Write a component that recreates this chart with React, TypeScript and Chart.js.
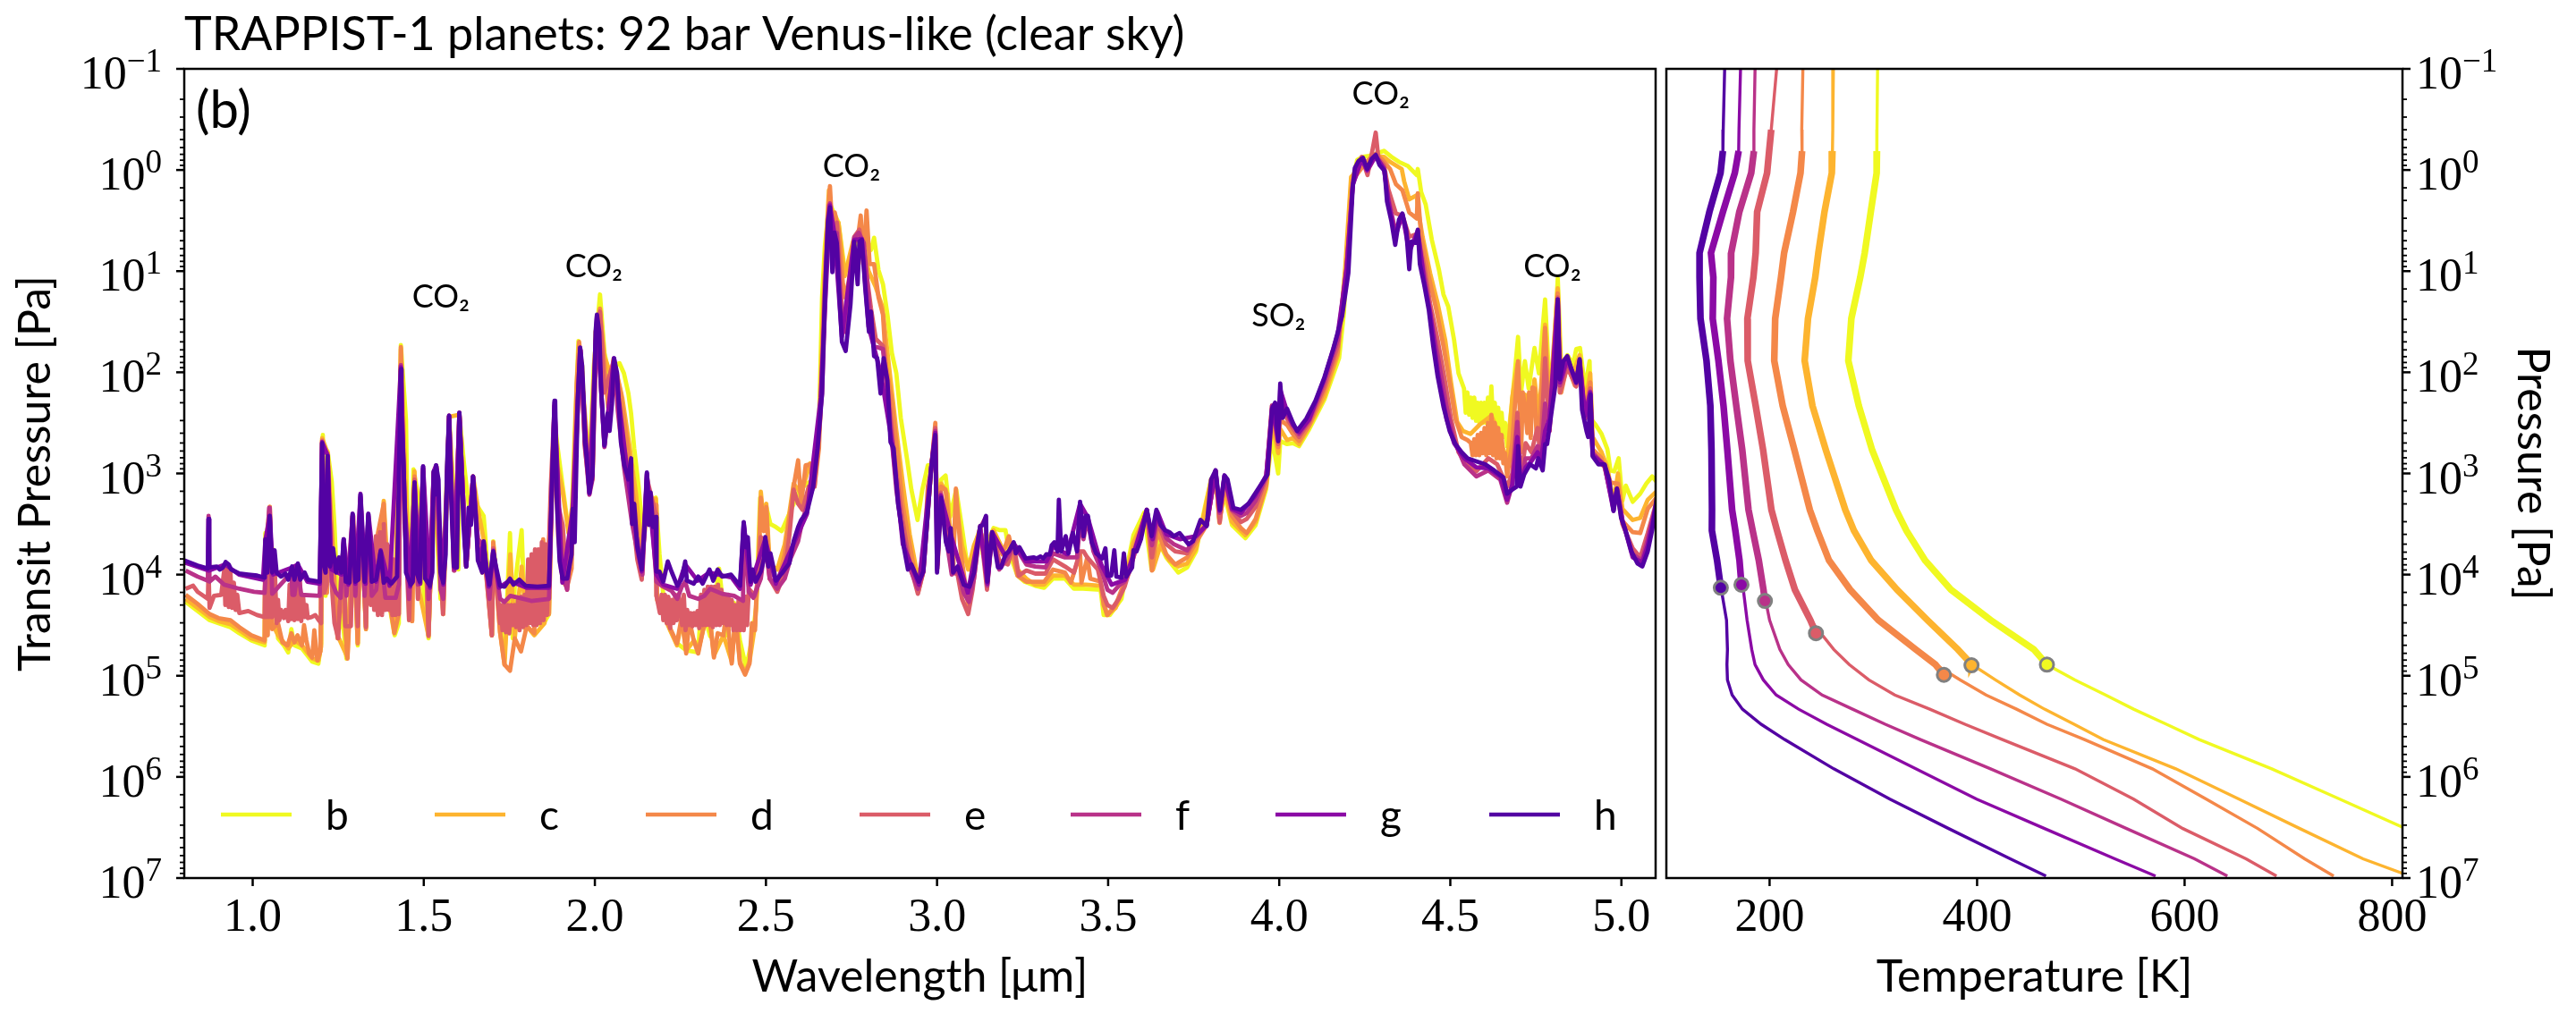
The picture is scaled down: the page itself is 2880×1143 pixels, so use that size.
import React, { useEffect, useRef } from "react";
import { Chart, registerables } from "chart.js";

Chart.register(...registerables);

// ---- DATA -----------------------------------------------------------------
const planets = ["b", "c", "d", "e", "f", "g", "h"];
const planetColors = ["#f0f921", "#fdb42f", "#f48849", "#db5c68", "#b93289", "#8b0aa5", "#5302a3"];
const titleText = "TRAPPIST-1 planets: 92 bar Venus-like (clear sky)";

// Transmission spectra: [wavelength in micron, log10 of transit pressure in Pa]
const spectrumB = [[.804,4.27],[.839,4.36],[.874,4.45],[.900,4.48],[.935,4.52],[.961,4.58],[.996,4.65],[1.035,4.70],[1.037,3.59],[1.044,4.54],[1.057,3.74],[1.074,4.63],[1.091,4.70],[1.104,4.77],[1.113,4.54],[1.122,4.70],[1.144,4.73],[1.174,4.86],[1.192,4.88],[1.200,4.68],[1.205,2.62],[1.213,4.21],[1.219,2.78],[1.231,3.08],[1.239,3.51],[1.252,4.54],[1.261,4.39],[1.274,4.83],[1.287,4.21],[1.292,3.42],[1.307,4.70],[1.315,3.30],[1.331,4.54],[1.338,3.48],[1.357,4.33],[1.374,3.80],[1.396,4.24],[1.415,4.60],[1.427,4.48],[1.433,1.73],[1.448,2.47],[1.457,4.45],[1.470,2.96],[1.483,3.21],[1.496,4.04],[1.514,4.63],[1.529,3.03],[1.549,4.24],[1.562,3.51],[1.574,2.44],[1.601,3.95],[1.604,2.42],[1.618,2.92],[1.636,3.45],[1.658,3.33],[1.675,3.42],[1.679,3.59],[1.699,4.60],[1.703,3.67],[1.723,4.45],[1.736,4.83],[1.752,3.59],[1.760,4.63],[1.766,4.10],[1.786,3.56],[1.797,4.54],[1.807,3.92],[1.823,4.48],[1.849,4.49],[1.866,4.39],[1.875,3.06],[1.882,2.47],[1.891,2.74],[1.906,3.13],[1.919,3.46],[1.932,3.46],[1.941,2.62],[1.952,1.69],[1.963,1.94],[1.971,2.62],[1.984,2.92],[1.997,1.94],[2.015,1.23],[2.028,1.81],[2.041,2.01],[2.056,1.94],[2.072,1.91],[2.085,2.01],[2.098,2.21],[2.106,2.41],[2.115,2.75],[2.128,3.13],[2.141,3.63],[2.154,3.30],[2.178,3.24],[2.189,3.80],[2.202,4.28],[2.220,4.55],[2.241,4.68],[2.267,4.75],[2.302,4.77],[2.311,4.28],[2.337,4.61],[2.363,3.94],[2.385,4.60],[2.407,4.28],[2.424,4.65],[2.442,4.92],[2.459,4.65],[2.472,4.31],[2.483,3.24],[2.494,3.50],[2.501,3.33],[2.513,3.50],[2.529,3.53],[2.546,3.57],[2.564,3.43],[2.581,3.30],[2.598,3.16],[2.625,3.09],[2.642,3.06],[2.655,2.55],[2.664,1.26],[2.672,.76],[2.685,.32],[2.698,.42],[2.712,.52],[2.729,.96],[2.742,.93],[2.755,.79],[2.773,.67],[2.794,.69],[2.807,.79],[2.816,.67],[2.829,.99],[2.842,1.13],[2.855,1.43],[2.868,1.81],[2.881,2.01],[2.894,2.45],[2.912,2.85],[2.925,3.16],[2.943,3.46],[2.957,3.16],[2.973,2.92],[2.983,2.92],[2.995,2.65],[3.003,3.70],[3.012,3.06],[3.025,3.02],[3.038,3.43],[3.056,3.16],[3.073,3.54],[3.085,3.83],[3.095,3.95],[3.113,3.68],[3.126,3.54],[3.134,3.80],[3.165,3.54],[3.182,3.56],[3.200,3.56],[3.210,3.77],[3.235,4.01],[3.256,4.07],[3.287,4.11],[3.313,4.13],[3.339,4.04],[3.374,4.04],[3.400,4.14],[3.426,4.14],[3.478,4.15],[3.487,4.40],[3.505,4.40],[3.539,4.24],[3.561,3.83],[3.574,3.61],[3.605,3.39],[3.627,3.95],[3.644,3.65],[3.670,3.83],[3.705,3.98],[3.731,3.93],[3.757,3.77],[3.783,3.33],[3.801,3.06],[3.814,3.0],[3.825,3.45],[3.840,3.21],[3.862,3.51],[3.901,3.64],[3.931,3.51],[3.962,3.15],[3.979,2.65],[3.997,3.0],[4.003,2.68],[4.023,2.71],[4.040,2.70],[4.058,2.73],[4.088,2.56],[4.132,2.27],[4.175,1.86],[4.189,1.41],[4.202,.66],[4.210,.16],[4.228,-.10],[4.245,-.13],[4.263,-.14],[4.282,-.16],[4.306,-.19],[4.328,-.13],[4.350,-.08],[4.376,-.04],[4.402,.05],[4.405,-.01],[4.415,.22],[4.428,.34],[4.446,.69],[4.467,.99],[4.480,1.23],[4.494,1.35],[4.511,1.68],[4.524,2.01],[4.540,2.16],[4.545,2.40],[4.550,2.20],[4.555,2.42],[4.560,2.25],[4.565,2.45],[4.570,2.25],[4.575,2.48],[4.580,2.30],[4.585,2.50],[4.590,2.30],[4.595,2.50],[4.600,2.30],[4.605,2.50],[4.610,2.25],[4.615,2.50],[4.620,2.14],[4.625,2.50],[4.630,2.30],[4.635,2.55],[4.640,2.35],[4.645,2.58],[4.650,2.40],[4.655,2.64],[4.660,2.50],[4.666,2.73],[4.681,2.28],[4.698,1.65],[4.707,2.19],[4.718,1.89],[4.729,2.16],[4.746,1.76],[4.759,2.01],[4.777,1.28],[4.790,2.16],[4.803,1.80],[4.814,1.07],[4.824,1.95],[4.842,1.83],[4.859,1.92],[4.868,1.77],[4.879,1.76],[4.894,2.16],[4.907,1.89],[4.911,2.46],[4.925,2.52],[4.942,2.61],[4.959,2.76],[4.968,2.97],[4.979,2.98],[4.992,2.85],[5.003,3.27],[5.013,3.12],[5.033,3.28],[5.055,3.20],[5.073,3.10],[5.090,3.03],[5.105,3.09]];

const spectrumC = [[.804,4.24],[.839,4.33],[.874,4.42],[.900,4.46],[.935,4.49],[.961,4.55],[.996,4.63],[1.035,4.67],[1.037,3.74],[1.050,3.33],[1.057,4.48],[1.074,4.60],[1.091,4.67],[1.104,4.73],[1.122,4.65],[1.144,4.70],[1.174,4.83],[1.192,4.85],[1.200,4.71],[1.203,2.65],[1.219,2.80],[1.231,3.80],[1.248,4.60],[1.277,4.82],[1.292,3.42],[1.307,4.68],[1.315,3.27],[1.331,4.52],[1.338,3.45],[1.357,4.30],[1.374,3.62],[1.383,3.27],[1.392,3.80],[1.414,4.57],[1.433,1.77],[1.448,3.21],[1.466,4.46],[1.473,2.98],[1.483,4.10],[1.514,4.61],[1.529,3.0],[1.557,4.39],[1.574,2.44],[1.604,2.42],[1.624,3.92],[1.644,3.03],[1.662,3.42],[1.675,3.65],[1.699,4.60],[1.703,3.71],[1.723,4.57],[1.736,4.89],[1.753,3.80],[1.766,4.63],[1.786,3.92],[1.801,4.51],[1.823,4.60],[1.853,4.48],[1.875,3.15],[1.882,2.47],[1.891,2.92],[1.906,3.18],[1.923,3.59],[1.936,3.27],[1.954,1.75],[1.967,2.25],[1.984,2.95],[1.993,3.05],[2.002,1.6],[2.015,1.42],[2.028,1.85],[2.05,2.05],[2.06,1.95],[2.08,2.25],[2.10,2.7],[2.12,3.2],[2.137,3.75],[2.154,3.25],[2.178,3.25],[2.182,4.25],[2.2,4.4],[2.22,4.55],[2.24,4.7],[2.254,4.45],[2.267,4.75],[2.29,4.65],[2.302,4.75],[2.32,4.5],[2.333,4.36],[2.348,4.8],[2.376,4.6],[2.40,4.86],[2.411,4.4],[2.424,4.86],[2.439,4.97],[2.452,4.86],[2.468,4.5],[2.478,3.9],[2.485,3.18],[2.494,3.5],[2.501,3.3],[2.511,3.9],[2.533,3.95],[2.555,3.7],[2.568,3.4],[2.581,3.1],[2.603,3.2],[2.629,2.9],[2.642,3.05],[2.655,2.6],[2.672,.95],[2.684,.2],[2.694,.5],[2.712,.52],[2.73,1.05],[2.755,.7],[2.78,.7],[2.8,1.0],[2.82,1.15],[2.84,1.35],[2.86,1.95],[2.88,2.55],[2.9,3.1],[2.92,3.6],[2.945,4.05],[2.965,3.7],[2.983,2.96],[2.995,2.6],[3.002,3.7],[3.012,3.1],[3.03,3.2],[3.045,3.85],[3.056,3.27],[3.073,3.71],[3.091,3.95],[3.108,3.71],[3.126,3.56],[3.147,3.86],[3.165,3.56],[3.191,3.74],[3.210,3.71],[3.235,3.95],[3.261,4.04],[3.287,4.10],[3.313,4.10],[3.339,4.01],[3.374,4.01],[3.400,4.10],[3.435,4.10],[3.478,4.11],[3.496,4.40],[3.522,4.33],[3.548,4.10],[3.574,3.68],[3.613,3.39],[3.631,3.95],[3.653,3.71],[3.679,3.86],[3.705,3.92],[3.731,3.89],[3.757,3.74],[3.783,3.36],[3.801,3.06],[3.814,3.0],[3.825,3.48],[3.840,3.15],[3.862,3.48],[3.901,3.61],[3.931,3.48],[3.962,3.12],[3.979,2.50],[3.997,2.80],[4.003,2.56],[4.023,2.67],[4.040,2.65],[4.058,2.71],[4.088,2.53],[4.132,2.24],[4.171,1.83],[4.193,.96],[4.210,.07],[4.254,-.08],[4.282,-.14],[4.306,-.13],[4.324,-.08],[4.358,-.01],[4.365,.11],[4.380,.29],[4.402,.25],[4.406,.40],[4.419,.66],[4.441,1.02],[4.463,1.32],[4.485,1.68],[4.502,2.10],[4.520,2.49],[4.537,2.58],[4.559,2.61],[4.585,2.52],[4.620,2.43],[4.646,2.64],[4.666,2.91],[4.681,2.25],[4.696,1.92],[4.707,2.46],[4.718,2.22],[4.733,2.46],[4.746,2.07],[4.759,2.46],[4.777,1.53],[4.790,2.34],[4.814,1.17],[4.824,2.10],[4.842,1.86],[4.859,2.01],[4.878,1.83],[4.894,2.31],[4.909,2.01],[4.916,2.64],[4.942,2.79],[4.959,2.94],[4.977,3.29],[4.990,3.0],[5.003,3.35],[5.033,3.46],[5.055,3.44],[5.077,3.26],[5.105,3.17]];

const spectrumD = [[.804,4.20],[.839,4.29],[.874,4.39],[.900,4.43],[.935,4.45],[.961,4.52],[.996,4.60],[1.035,4.65],[1.037,3.74],[1.044,4.60],[1.050,3.33],[1.057,4.54],[1.074,4.48],[1.087,4.67],[1.102,4.70],[1.113,4.58],[1.122,4.67],[1.131,4.60],[1.144,4.70],[1.150,4.50],[1.157,4.65],[1.165,4.78],[1.174,4.82],[1.180,4.55],[1.189,4.85],[1.198,4.76],[1.203,2.67],[1.209,4.10],[1.217,4.18],[1.219,2.80],[1.235,3.80],[1.248,4.63],[1.261,4.10],[1.277,4.83],[1.287,4.10],[1.292,3.42],[1.307,4.68],[1.315,3.27],[1.331,4.54],[1.338,3.45],[1.357,4.33],[1.366,3.59],[1.383,3.30],[1.392,4.10],[1.414,4.58],[1.427,4.39],[1.433,1.75],[1.441,2.92],[1.448,3.80],[1.466,4.46],[1.473,3.03],[1.483,4.24],[1.498,2.98],[1.514,4.61],[1.529,3.0],[1.537,2.95],[1.544,3.51],[1.557,4.39],[1.574,2.44],[1.588,3.95],[1.604,2.42],[1.624,3.92],[1.644,3.03],[1.658,3.65],[1.671,3.98],[1.675,3.74],[1.699,4.60],[1.703,3.68],[1.723,4.57],[1.736,4.89],[1.752,4.95],[1.766,4.63],[1.784,4.76],[1.801,4.51],[1.823,4.58],[1.827,3.80],[1.845,4.45],[1.849,3.65],[1.866,4.39],[1.875,3.15],[1.882,2.47],[1.893,3.63],[1.906,4.07],[1.919,4.12],[1.932,3.94],[1.936,3.30],[1.947,2.11],[1.954,1.70],[1.963,2.01],[1.971,2.72],[1.984,2.92],[1.993,3.06],[2.002,1.81],[2.015,1.37],[2.028,1.94],[2.039,2.35],[2.054,1.87],[2.076,2.21],[2.098,2.79],[2.115,3.30],[2.137,3.87],[2.154,3.30],[2.178,3.31],[2.180,4.21],[2.198,4.38],[2.220,4.53],[2.240,4.68],[2.254,4.41],[2.267,4.78],[2.276,4.45],[2.289,4.65],[2.302,4.78],[2.320,4.48],[2.333,4.34],[2.348,4.82],[2.359,4.58],[2.376,4.60],[2.385,4.34],[2.400,4.88],[2.411,4.41],[2.424,4.88],[2.439,4.99],[2.452,4.88],[2.459,4.48],[2.468,4.55],[2.472,4.21],[2.478,3.97],[2.485,3.24],[2.494,3.57],[2.501,3.33],[2.511,4.04],[2.533,4.11],[2.555,3.80],[2.568,3.46],[2.581,3.13],[2.594,2.87],[2.603,3.30],[2.616,2.92],[2.629,2.91],[2.642,3.13],[2.655,2.75],[2.672,1.06],[2.687,.16],[2.694,.59],[2.701,.42],[2.712,.59],[2.725,1.13],[2.731,1.26],[2.742,1.10],[2.755,.72],[2.768,.69],[2.777,.45],[2.784,.93],[2.794,.40],[2.803,.93],[2.816,.93],[2.829,1.26],[2.842,1.43],[2.851,1.94],[2.868,2.28],[2.886,2.85],[2.899,3.30],[2.916,3.63],[2.929,3.87],[2.945,4.17],[2.960,3.97],[2.973,3.13],[2.983,2.96],[2.995,2.50],[3.002,3.90],[3.012,3.13],[3.025,3.16],[3.038,3.63],[3.047,3.97],[3.055,3.15],[3.069,3.77],[3.091,4.30],[3.108,3.98],[3.126,3.54],[3.147,3.95],[3.165,3.59],[3.191,3.80],[3.210,3.62],[3.235,4.01],[3.261,4.07],[3.291,4.07],[3.313,4.07],[3.339,3.95],[3.374,3.98],[3.391,4.08],[3.418,3.79],[3.422,4.08],[3.439,3.83],[3.448,4.04],[3.478,4.07],[3.487,4.30],[3.498,4.40],[3.522,4.30],[3.539,4.15],[3.561,3.98],[3.574,3.76],[3.613,3.36],[3.628,3.96],[3.644,3.56],[3.670,3.80],[3.696,3.90],[3.731,3.83],[3.757,3.68],[3.788,3.51],[3.814,2.98],[3.826,3.49],[3.840,3.09],[3.862,3.42],[3.888,3.54],[3.905,3.59],[3.931,3.45],[3.962,3.11],[3.979,2.39],[3.997,2.74],[4.003,2.47],[4.023,2.52],[4.040,2.61],[4.058,2.68],[4.088,2.52],[4.132,2.18],[4.171,1.80],[4.197,.96],[4.215,.10],[4.254,-.08],[4.282,-.16],[4.302,-.10],[4.324,-.01],[4.341,.14],[4.360,.20],[4.380,.42],[4.402,.48],[4.405,.23],[4.415,.66],[4.437,1.05],[4.459,1.38],[4.480,1.74],[4.498,2.10],[4.515,2.46],[4.533,2.64],[4.550,2.67],[4.560,2.70],[4.565,2.82],[4.570,2.66],[4.575,2.82],[4.580,2.62],[4.585,2.82],[4.590,2.60],[4.595,2.80],[4.600,2.55],[4.605,2.82],[4.610,2.50],[4.615,2.80],[4.620,2.42],[4.625,2.82],[4.630,2.50],[4.635,2.85],[4.640,2.55],[4.645,2.85],[4.650,2.62],[4.655,2.90],[4.660,2.80],[4.666,3.03],[4.681,2.70],[4.698,1.89],[4.707,2.79],[4.712,2.20],[4.718,2.34],[4.725,2.60],[4.730,2.20],[4.735,2.65],[4.740,2.15],[4.746,2.16],[4.752,2.62],[4.759,2.64],[4.777,1.56],[4.788,2.52],[4.814,1.22],[4.824,2.20],[4.842,1.92],[4.864,2.13],[4.878,1.92],[4.894,2.43],[4.909,2.10],[4.916,2.76],[4.942,2.85],[4.968,3.09],[4.990,3.10],[5.003,3.47],[5.033,3.58],[5.055,3.59],[5.077,3.35],[5.105,3.23]];

const spectrumE = [[.804,4.14],[.826,4.11],[.839,4.17],[.869,4.24],[.871,3.95],[.874,4.33],[.887,4.21],[.908,4.20],[.917,3.95],[.920,4.30],[.925,3.93],[.930,4.32],[.935,3.98],[.940,4.33],[.945,4.08],[.950,4.35],[.955,4.20],[.961,4.38],[.987,4.36],[1.013,4.40],[1.035,4.42],[1.036,4.04],[1.040,4.42],[1.043,4.05],[1.046,4.42],[1.050,3.40],[1.054,4.42],[1.057,4.42],[1.062,4.05],[1.065,3.98],[1.070,4.48],[1.074,4.25],[1.078,4.45],[1.083,4.35],[1.091,4.43],[1.096,4.35],[1.104,4.46],[1.108,4.10],[1.113,4.44],[1.117,4.05],[1.122,4.45],[1.127,4.00],[1.132,4.44],[1.137,3.98],[1.142,4.46],[1.147,4.20],[1.152,4.42],[1.157,4.30],[1.161,4.43],[1.172,4.42],[1.183,4.40],[1.193,4.45],[1.200,4.48],[1.203,2.68],[1.209,4.18],[1.216,4.10],[1.219,2.83],[1.231,4.10],[1.239,4.48],[1.250,4.63],[1.257,4.10],[1.266,3.68],[1.271,4.51],[1.287,4.51],[1.294,3.42],[1.307,4.51],[1.315,3.24],[1.331,4.52],[1.338,3.45],[1.345,4.30],[1.350,3.75],[1.355,4.35],[1.360,3.62],[1.366,4.40],[1.372,3.58],[1.378,4.40],[1.383,3.50],[1.388,4.35],[1.393,3.70],[1.398,4.35],[1.403,3.72],[1.408,4.40],[1.412,3.85],[1.417,4.40],[1.422,4.15],[1.427,4.39],[1.433,1.93],[1.444,3.36],[1.457,4.45],[1.473,3.06],[1.483,4.24],[1.498,2.95],[1.514,4.60],[1.529,2.99],[1.537,2.93],[1.544,3.51],[1.556,4.39],[1.574,2.43],[1.590,3.96],[1.604,2.40],[1.624,3.92],[1.644,3.03],[1.658,3.68],[1.671,3.95],[1.675,3.71],[1.699,4.60],[1.703,3.74],[1.723,4.48],[1.725,4.30],[1.730,4.55],[1.735,4.28],[1.740,4.57],[1.745,4.30],[1.750,4.58],[1.755,4.30],[1.760,4.50],[1.765,4.30],[1.770,4.52],[1.775,4.25],[1.780,4.55],[1.785,4.22],[1.790,4.52],[1.795,4.20],[1.800,4.50],[1.805,3.85],[1.810,4.48],[1.815,3.80],[1.820,4.50],[1.825,3.75],[1.830,4.50],[1.835,3.75],[1.840,4.48],[1.845,3.68],[1.850,4.45],[1.855,3.70],[1.860,4.40],[1.865,3.80],[1.871,3.15],[1.882,2.33],[1.894,3.33],[1.906,3.51],[1.919,4.15],[1.936,3.39],[1.958,1.78],[1.971,2.75],[1.984,3.15],[2.002,1.70],[2.015,1.40],[2.028,2.20],[2.056,1.88],[2.076,2.55],[2.098,3.00],[2.124,3.85],[2.137,4.05],[2.152,3.05],[2.178,3.40],[2.180,4.21],[2.190,4.38],[2.195,4.20],[2.200,4.45],[2.205,4.20],[2.210,4.48],[2.215,4.22],[2.220,4.53],[2.225,4.25],[2.230,4.48],[2.235,4.20],[2.240,4.45],[2.245,4.20],[2.250,4.31],[2.255,4.50],[2.260,4.20],[2.265,4.55],[2.270,4.35],[2.275,4.50],[2.280,4.38],[2.285,4.51],[2.290,4.38],[2.295,4.50],[2.300,4.36],[2.305,4.53],[2.310,4.20],[2.315,4.50],[2.320,4.15],[2.325,4.50],[2.330,4.12],[2.335,4.50],[2.340,4.12],[2.345,4.52],[2.350,4.12],[2.355,4.50],[2.360,4.10],[2.365,4.50],[2.370,4.15],[2.375,4.48],[2.380,4.20],[2.385,4.50],[2.390,4.20],[2.395,4.50],[2.400,4.25],[2.405,4.55],[2.410,4.30],[2.415,4.55],[2.420,4.25],[2.425,4.55],[2.430,4.25],[2.435,4.55],[2.440,4.22],[2.445,4.50],[2.450,4.14],[2.468,4.21],[2.476,4.07],[2.485,3.63],[2.498,3.67],[2.511,4.04],[2.533,4.17],[2.555,3.97],[2.568,3.63],[2.581,3.16],[2.594,3.30],[2.607,3.36],[2.625,3.13],[2.642,3.13],[2.659,2.45],[2.672,1.20],[2.684,.35],[2.694,.82],[2.707,.52],[2.722,1.37],[2.733,1.54],[2.758,.66],[2.773,.59],[2.790,.93],[2.807,1.37],[2.821,1.67],[2.842,1.74],[2.860,2.28],[2.877,2.89],[2.899,3.46],[2.921,3.90],[2.944,4.19],[2.960,3.97],[2.983,2.94],[2.995,2.55],[3.001,3.94],[3.011,3.19],[3.025,3.46],[3.043,3.97],[3.060,4.0],[3.073,4.24],[3.091,4.39],[3.104,4.15],[3.126,3.52],[3.146,4.15],[3.161,3.59],[3.182,3.86],[3.207,3.90],[3.224,3.70],[3.239,4.01],[3.261,3.96],[3.287,3.99],[3.317,3.99],[3.339,3.85],[3.374,3.92],[3.400,3.98],[3.418,3.77],[3.428,3.77],[3.439,3.83],[3.470,3.95],[3.487,4.21],[3.498,4.30],[3.513,4.33],[3.531,4.24],[3.548,4.12],[3.574,3.83],[3.613,3.36],[3.628,3.83],[3.644,3.48],[3.670,3.70],[3.696,3.77],[3.731,3.79],[3.757,3.64],[3.788,3.51],[3.814,2.98],[3.826,3.48],[3.840,3.05],[3.862,3.37],[3.888,3.48],[3.905,3.45],[3.931,3.33],[3.962,3.05],[3.979,2.33],[3.997,2.71],[4.003,2.33],[4.023,2.46],[4.040,2.55],[4.058,2.64],[4.088,2.49],[4.132,2.14],[4.171,1.74],[4.197,.96],[4.215,.13],[4.241,-.13],[4.258,.05],[4.271,-.17],[4.282,-.37],[4.290,-.11],[4.306,-.05],[4.319,.19],[4.341,.43],[4.360,.45],[4.380,.66],[4.405,.63],[4.424,.96],[4.441,1.32],[4.463,1.68],[4.485,2.10],[4.502,2.46],[4.524,2.79],[4.550,2.92],[4.576,2.98],[4.611,2.85],[4.637,2.91],[4.666,3.13],[4.681,3.0],[4.696,2.40],[4.705,3.06],[4.720,2.70],[4.737,2.79],[4.755,2.55],[4.763,2.82],[4.777,1.86],[4.790,2.58],[4.814,1.26],[4.820,2.20],[4.842,1.95],[4.868,2.14],[4.878,1.90],[4.894,2.46],[4.909,2.16],[4.916,2.79],[4.951,2.94],[4.977,3.32],[4.987,3.18],[5.003,3.50],[5.033,3.74],[5.055,3.83],[5.077,3.59],[5.105,3.25]];

const spectrumF = [[.804,3.96],[.839,4.02],[.869,4.06],[.871,3.42],[.874,4.07],[.891,4.02],[.917,4.10],[.961,4.14],[1.004,4.17],[1.035,4.18],[1.048,3.34],[1.050,3.34],[1.057,4.19],[1.113,3.98],[1.116,4.20],[1.122,4.20],[1.132,3.95],[1.142,4.20],[1.196,4.21],[1.203,2.70],[1.213,3.98],[1.219,2.83],[1.231,4.07],[1.244,4.18],[1.257,4.23],[1.266,3.65],[1.274,4.21],[1.292,3.42],[1.300,4.21],[1.315,3.23],[1.327,4.21],[1.338,3.42],[1.348,4.21],[1.361,4.15],[1.374,3.77],[1.388,4.23],[1.418,4.23],[1.427,4.10],[1.433,1.93],[1.444,3.51],[1.457,4.24],[1.473,3.09],[1.483,4.10],[1.498,2.95],[1.514,4.24],[1.529,2.99],[1.537,2.93],[1.549,4.15],[1.557,4.24],[1.574,2.43],[1.588,3.96],[1.604,2.41],[1.624,3.92],[1.644,3.03],[1.658,3.65],[1.675,3.71],[1.692,4.24],[1.703,3.76],[1.723,4.24],[1.736,4.27],[1.753,4.21],[1.779,4.23],[1.814,4.26],[1.866,4.24],[1.875,3.09],[1.882,2.33],[1.901,3.95],[1.919,4.15],[1.936,3.45],[1.958,1.78],[1.971,2.72],[1.984,3.21],[1.993,3.06],[2.006,1.47],[2.028,2.74],[2.056,1.87],[2.067,2.38],[2.086,2.96],[2.109,3.50],[2.124,3.77],[2.139,4.0],[2.152,3.01],[2.170,3.60],[2.180,4.07],[2.200,4.12],[2.224,4.16],[2.241,4.24],[2.254,4.12],[2.264,4.07],[2.276,4.21],[2.302,4.24],[2.320,4.21],[2.337,4.14],[2.372,4.19],[2.407,4.21],[2.433,4.26],[2.435,3.51],[2.450,4.17],[2.463,4.23],[2.485,4.04],[2.498,3.70],[2.511,4.04],[2.533,4.14],[2.555,4.04],[2.572,3.84],[2.594,3.67],[2.607,3.46],[2.638,3.13],[2.664,2.21],[2.681,.49],[2.687,.33],[2.694,.86],[2.707,.62],[2.722,1.54],[2.733,1.60],[2.758,.67],[2.771,.62],[2.786,.72],[2.803,1.37],[2.816,1.74],[2.842,1.77],[2.860,2.38],[2.881,3.16],[2.899,3.60],[2.921,3.94],[2.944,4.14],[2.960,3.97],[2.983,2.94],[2.995,2.58],[3.001,3.87],[3.011,3.21],[3.025,3.60],[3.043,4.0],[3.060,3.95],[3.078,4.18],[3.093,4.27],[3.108,4.04],[3.126,3.54],[3.143,3.43],[3.147,4.11],[3.161,3.59],[3.182,3.95],[3.207,3.83],[3.224,3.70],[3.261,3.90],[3.287,3.92],[3.317,3.93],[3.339,3.79],[3.374,3.83],[3.409,3.83],[3.418,3.48],[3.428,3.65],[3.439,3.45],[3.457,3.77],[3.483,3.98],[3.498,4.15],[3.513,4.18],[3.531,4.11],[3.548,4.07],[3.574,3.83],[3.613,3.36],[3.628,3.71],[3.644,3.42],[3.670,3.64],[3.692,3.70],[3.731,3.76],[3.757,3.61],[3.788,3.51],[3.814,2.97],[3.826,3.39],[3.840,3.03],[3.862,3.36],[3.888,3.42],[3.905,3.39],[3.931,3.27],[3.962,3.03],[3.979,2.33],[3.997,2.68],[4.003,2.24],[4.023,2.42],[4.040,2.52],[4.058,2.61],[4.088,2.47],[4.132,2.09],[4.171,1.68],[4.197,.96],[4.215,.14],[4.241,-.11],[4.257,.01],[4.282,-.14],[4.306,-.02],[4.319,.28],[4.339,.60],[4.360,.44],[4.380,.75],[4.405,.65],[4.424,1.05],[4.441,1.41],[4.463,1.83],[4.489,2.34],[4.511,2.67],[4.541,2.91],[4.576,3.03],[4.611,2.97],[4.646,3.06],[4.666,3.29],[4.681,3.11],[4.696,2.49],[4.705,3.11],[4.720,2.85],[4.737,2.85],[4.755,2.73],[4.763,2.91],[4.777,2.31],[4.790,2.58],[4.814,1.28],[4.820,2.13],[4.842,1.89],[4.868,2.11],[4.878,1.89],[4.894,2.46],[4.909,2.19],[4.916,2.80],[4.951,2.92],[4.977,3.35],[4.987,3.16],[5.003,3.47],[5.033,3.80],[5.060,3.86],[5.077,3.65],[5.105,3.25]];

const spectrumG = [[.80,3.88],[.87,3.96],[.871,3.45],[.873,3.96],[.92,3.9],[.96,4.0],[1.03,4.05],[1.037,3.66],[1.05,3.42],[1.06,4.0],[1.115,3.93],[1.132,3.9],[1.16,4.07],[1.196,4.09],[1.203,2.69],[1.219,2.82],[1.23,3.95],[1.26,4.0],[1.266,3.65],[1.28,4.1],[1.292,3.4],[1.30,4.09],[1.315,3.2],[1.33,4.09],[1.338,3.4],[1.36,4.07],[1.374,3.76],[1.40,4.11],[1.433,1.95],[1.444,3.3],[1.46,4.12],[1.473,3.09],[1.49,4.09],[1.498,2.93],[1.518,4.13],[1.529,2.98],[1.536,2.92],[1.557,4.1],[1.574,2.43],[1.59,3.94],[1.604,2.4],[1.624,3.92],[1.644,3.03],[1.66,3.87],[1.675,3.68],[1.69,4.12],[1.703,3.77],[1.72,4.13],[1.75,4.06],[1.80,4.13],[1.866,4.13],[1.882,2.3],[1.905,4.08],[1.935,3.37],[1.957,1.76],[1.984,3.2],[2.006,1.44],[2.028,2.73],[2.056,1.86],[2.098,3.08],[2.137,3.97],[2.152,3.0],[2.18,4.0],[2.2,4.1],[2.24,4.14],[2.264,3.9],[2.3,4.06],[2.335,3.98],[2.4,4.03],[2.424,4.14],[2.435,3.49],[2.455,4.1],[2.498,3.65],[2.529,4.09],[2.58,3.7],[2.62,3.4],[2.66,2.25],[2.687,.35],[2.7,.63],[2.722,1.65],[2.758,.69],[2.78,.68],[2.8,1.55],[2.835,2.0],[2.87,2.73],[2.9,3.7],[2.947,4.1],[2.983,2.94],[2.995,2.6],[3.0,3.95],[3.011,3.22],[3.04,3.6],[3.09,4.18],[3.126,3.53],[3.147,4.09],[3.161,3.58],[3.2,3.82],[3.224,3.69],[3.26,3.87],[3.32,3.87],[3.34,3.72],[3.38,3.8],[3.418,3.3],[3.44,3.43],[3.48,3.9],[3.51,4.1],[3.55,4.05],[3.574,3.8],[3.613,3.36],[3.63,3.65],[3.644,3.38],[3.67,3.6],[3.71,3.65],[3.757,3.62],[3.788,3.51],[3.814,2.97],[3.826,3.37],[3.84,3.02],[3.862,3.35],[3.888,3.39],[3.93,3.22],[3.962,3.02],[3.98,2.34],[3.997,2.66],[4.003,2.17],[4.023,2.39],[4.04,2.52],[4.058,2.59],[4.088,2.46],[4.132,2.06],[4.171,1.62],[4.197,.99],[4.215,.15],[4.241,-.11],[4.257,0],[4.282,-.14],[4.306,-.01],[4.319,.31],[4.339,.66],[4.360,.44],[4.380,.81],[4.405,.60],[4.424,1.11],[4.441,1.41],[4.463,1.98],[4.489,2.46],[4.511,2.70],[4.541,2.85],[4.576,2.94],[4.611,2.95],[4.646,3.03],[4.666,3.26],[4.681,3.11],[4.696,2.64],[4.705,3.11],[4.720,2.94],[4.737,2.88],[4.755,2.79],[4.763,2.92],[4.777,2.58],[4.790,2.46],[4.814,1.28],[4.820,2.10],[4.842,1.86],[4.868,2.10],[4.878,1.88],[4.894,2.43],[4.909,2.20],[4.916,2.82],[4.951,2.92],[4.977,3.37],[4.987,3.15],[5.003,3.46],[5.033,3.83],[5.061,3.88],[5.077,3.71],[5.105,3.25]];

const spectrumH = [[.80,3.86],[.839,3.91],[.869,3.94],[.871,3.45],[.873,3.93],[.895,3.92],[.904,3.95],[.913,3.93],[.921,3.875],[.930,3.90],[.937,3.95],[.961,3.99],[.987,4.00],[1.013,4.01],[1.035,4.03],[1.037,3.65],[1.043,3.98],[1.050,3.42],[1.057,3.98],[1.064,3.76],[1.070,3.98],[1.083,4.02],[1.096,3.99],[1.104,4.05],[1.115,3.92],[1.122,4.05],[1.132,3.89],[1.139,4.05],[1.152,3.98],[1.161,4.05],[1.196,4.07],[1.203,2.70],[1.209,3.92],[1.213,3.98],[1.219,2.83],[1.226,3.92],[1.235,3.74],[1.244,3.98],[1.252,3.83],[1.259,3.98],[1.266,3.65],[1.272,4.07],[1.283,4.08],[1.292,3.40],[1.300,4.07],[1.309,4.05],[1.315,3.21],[1.327,4.07],[1.338,3.40],[1.348,4.07],[1.361,4.05],[1.374,3.77],[1.383,4.08],[1.392,4.04],[1.405,4.09],[1.422,4.02],[1.433,1.97],[1.435,2.42],[1.441,2.92],[1.444,3.27],[1.448,3.98],[1.462,4.10],[1.468,4.07],[1.473,3.09],[1.479,3.98],[1.488,4.07],[1.498,2.93],[1.504,4.04],[1.518,4.11],[1.525,3.98],[1.529,2.98],[1.533,3.21],[1.536,2.92],[1.543,3.06],[1.549,3.98],[1.557,4.08],[1.564,3.80],[1.568,2.92],[1.574,2.43],[1.579,3.15],[1.583,3.51],[1.588,3.92],[1.597,3.93],[1.604,2.40],[1.610,2.92],[1.616,3.51],[1.624,3.92],[1.631,3.34],[1.638,3.51],[1.644,3.03],[1.653,3.48],[1.658,3.86],[1.671,3.98],[1.675,3.67],[1.682,3.95],[1.692,4.10],[1.703,3.77],[1.711,3.92],[1.723,4.11],[1.736,4.12],[1.752,4.04],[1.762,4.10],[1.779,4.05],[1.797,4.11],[1.832,4.12],[1.866,4.11],[1.875,3.06],[1.882,2.28],[1.884,2.28],[1.889,3.30],[1.897,3.87],[1.906,4.04],[1.919,4.04],[1.932,3.80],[1.935,3.35],[1.941,3.68],[1.950,2.28],[1.957,1.755],[1.963,1.94],[1.967,2.25],[1.971,2.69],[1.976,2.84],[1.984,3.19],[1.993,3.02],[2.002,1.60],[2.006,1.43],[2.013,1.60],[2.019,2.21],[2.028,2.72],[2.037,2.41],[2.043,2.58],[2.050,2.31],[2.056,1.86],[2.065,2.01],[2.076,2.69],[2.086,2.92],[2.098,3.06],[2.106,2.85],[2.109,3.50],[2.115,3.30],[2.124,3.73],[2.137,3.95],[2.145,3.57],[2.152,2.99],[2.158,3.51],[2.163,3.19],[2.170,3.53],[2.178,3.43],[2.180,3.97],[2.189,3.97],[2.200,4.07],[2.213,3.87],[2.224,3.97],[2.241,4.11],[2.254,4.04],[2.264,3.87],[2.269,4.06],[2.289,4.09],[2.302,4.02],[2.315,4.09],[2.335,3.95],[2.346,4.06],[2.359,3.95],[2.372,4.02],[2.398,4.00],[2.424,4.11],[2.435,3.48],[2.442,3.73],[2.447,3.63],[2.455,4.07],[2.461,3.95],[2.470,4.07],[2.485,3.97],[2.494,3.85],[2.498,3.63],[2.507,3.92],[2.513,3.79],[2.520,3.90],[2.529,4.06],[2.546,3.99],[2.568,3.89],[2.581,3.67],[2.594,3.53],[2.603,3.46],[2.620,3.38],[2.638,3.13],[2.651,2.75],[2.664,2.21],[2.672,1.26],[2.681,.52],[2.687,.37],[2.694,1.01],[2.700,.62],[2.707,.72],[2.716,1.33],[2.722,1.70],[2.733,1.79],[2.747,1.33],[2.758,.71],[2.768,1.13],[2.773,.71],[2.780,.69],[2.790,1.16],[2.801,1.60],[2.807,1.40],[2.816,1.84],[2.825,1.86],[2.835,2.21],[2.844,1.86],[2.855,2.08],[2.864,2.69],[2.873,2.75],[2.886,3.30],[2.895,3.50],[2.903,3.73],[2.915,3.95],[2.925,3.90],[2.934,3.97],[2.947,4.07],[2.960,3.97],[2.969,3.57],[2.983,2.94],[2.995,2.62],[3.0,3.98],[3.012,3.24],[3.026,3.68],[3.034,3.77],[3.040,3.54],[3.047,3.98],[3.060,3.92],[3.078,4.10],[3.095,4.12],[3.108,3.98],[3.126,3.52],[3.134,3.51],[3.143,3.42],[3.147,4.07],[3.161,3.58],[3.178,3.93],[3.187,3.93],[3.200,3.80],[3.210,3.77],[3.224,3.68],[3.230,3.79],[3.241,3.73],[3.259,3.84],[3.282,3.83],[3.291,3.84],[3.302,3.82],[3.311,3.84],[3.319,3.80],[3.330,3.80],[3.335,3.71],[3.343,3.68],[3.352,3.77],[3.356,3.26],[3.363,3.77],[3.376,3.62],[3.384,3.79],[3.397,3.59],[3.409,3.77],[3.418,3.28],[3.428,3.62],[3.435,3.42],[3.441,3.42],[3.452,3.68],[3.465,3.79],[3.483,3.84],[3.492,3.74],[3.498,4.01],[3.509,4.01],[3.518,3.76],[3.524,4.02],[3.539,4.03],[3.546,3.79],[3.553,4.02],[3.570,3.93],[3.574,3.76],[3.583,3.77],[3.596,3.65],[3.613,3.36],[3.627,3.62],[3.631,3.54],[3.641,3.36],[3.653,3.51],[3.666,3.56],[3.679,3.58],[3.692,3.62],[3.709,3.59],[3.735,3.70],[3.748,3.67],[3.770,3.46],[3.788,3.52],[3.801,3.06],[3.814,2.97],[3.827,3.36],[3.840,3.02],[3.849,3.06],[3.866,3.34],[3.888,3.36],[3.910,3.30],[3.966,3.01],[3.979,2.36],[3.988,2.30],[3.997,2.68],[4.003,2.11],[4.010,2.45],[4.023,2.36],[4.040,2.50],[4.052,2.58],[4.079,2.46],[4.106,2.28],[4.132,2.05],[4.158,1.77],[4.184,1.44],[4.202,1.02],[4.215,.16],[4.221,-.02],[4.232,-.09],[4.245,-.12],[4.257,-.01],[4.270,-.11],[4.282,-.15],[4.293,-.05],[4.308,.01],[4.315,.31],[4.328,.51],[4.339,.74],[4.350,.49],[4.360,.43],[4.371,.59],[4.380,.98],[4.386,.71],[4.398,.72],[4.405,.59],[4.411,.93],[4.424,1.14],[4.437,1.38],[4.450,1.74],[4.463,2.04],[4.480,2.34],[4.498,2.58],[4.515,2.71],[4.533,2.79],[4.550,2.85],[4.576,2.88],[4.602,2.91],[4.628,2.97],[4.655,3.04],[4.666,3.20],[4.681,3.16],[4.694,3.13],[4.698,2.73],[4.705,3.13],[4.716,3.01],[4.733,2.91],[4.750,2.95],[4.757,2.85],[4.770,2.97],[4.777,2.71],[4.783,2.71],[4.798,2.34],[4.807,2.13],[4.814,1.28],[4.820,2.07],[4.830,1.89],[4.842,1.84],[4.855,1.98],[4.868,2.10],[4.878,1.87],[4.885,2.37],[4.898,2.58],[4.903,2.64],[4.910,2.22],[4.916,2.83],[4.933,2.91],[4.951,2.91],[4.964,3.06],[4.977,3.37],[4.987,3.15],[4.999,3.44],[5.012,3.56],[5.029,3.77],[5.047,3.89],[5.061,3.92],[5.077,3.77],[5.090,3.56],[5.105,3.20]];

const spectra = [spectrumB, spectrumC, spectrumD, spectrumE, spectrumF, spectrumG, spectrumH];

// Molecular band labels
const bandLabels = ["CO₂", "CO₂", "CO₂", "CO₂", "CO₂", "SO₂"];
const bandWavelengths = [1.55, 1.997, 2.75, 4.297, 4.798, 3.998];
const bandPressures = [18.2, 9.0, 0.92, 0.18, 9.1, 27.9];

// Temperature-pressure profiles on shared pressure levels (Pa)
const pressureLevels = [0.1, 0.4, 0.65, 1.07, 2.6, 6.6, 11.5, 29.5, 76.7, 214, 589, 2290, 3670, 7240, 14100, 28200, 55000, 77600, 110000, 155000, 214000, 302000, 427000, 832000, 1660000, 3240000, 6460000, 9550000];
const temperatureB = [304.1, 303.5, 303.5, 303.2, 297.5, 291.7, 287.4, 278.8, 275.9, 286, 298.9, 321.9, 331.9, 349.9, 374.8, 413.1, 454.7, 467.3, 494.4, 523.8, 550.9, 582.5, 614.1, 684, 749.6, 812.8, 882.8, 918.9];
const temperatureC = [261.5, 260.9, 260.6, 260, 252.9, 247, 244, 237, 233.8, 241.3, 254.3, 273, 281.3, 298, 322.8, 352.2, 381.5, 395, 417.7, 441, 465, 493.5, 521.5, 591.5, 652.5, 711, 772, 817];
const temperatureD = [232.1, 231, 231.3, 229.8, 222.6, 214, 211, 205.4, 204.5, 212.6, 224, 238.8, 246, 257.3, 277.7, 304.8, 340.9, 359.9, 383.8, 408.6, 438, 467.3, 503.5, 568.9, 620.9, 670.5, 715.7, 743.7];
const temperatureE = [206.8, 201.6, 199.6, 197.6, 188, 186.6, 184.4, 178.6, 178.9, 186.6, 193.8, 201.8, 207.2, 215.4, 224.4, 239.3, 261.9, 276.8, 295.7, 320.6, 354.4, 388.3, 424.4, 494.4, 550.9, 598.3, 659.2, 688.6];
const temperatureF = [186, 184.9, 184.9, 182.3, 170.8, 163, 162.8, 159, 162.2, 167.9, 173.7, 179.7, 183.7, 189.6, 194.1, 200, 209.9, 218, 230.3, 250.6, 280, 311.5, 345.4, 413, 480.9, 544, 609.6, 641.2];
const temperatureG = [172, 170.5, 170.2, 166.5, 155, 143.5, 145.8, 145.2, 150.7, 155.6, 159.3, 163.9, 167, 171, 174.7, 178.3, 182.8, 186, 194, 206.3, 228, 255, 284.4, 340.9, 399.6, 465, 532.8, 572];
const temperatureH = [156.7, 155.3, 155, 152.7, 142, 132.5, 132.5, 133.4, 139.2, 142.9, 144, 144.5, 144.4, 149.4, 153.5, 158.5, 159.4, 158.9, 159.4, 163.9, 173.8, 191.9, 214.5, 261.9, 316, 372.5, 432, 466.4];
const temperatures = [temperatureB, temperatureC, temperatureD, temperatureE, temperatureF, temperatureG, temperatureH];

// Top of the radiatively probed (thick) range and the cloud-deck markers
const thickTopPressures = [0.65, 0.65, 0.65, 0.4, 0.65, 0.65, 0.65];
const markerTemperatures = [467.3, 394.6, 368, 244.7, 195.5, 172.9, 153];
const markerPressures = [77600, 78900, 98000, 38000, 18200, 12600, 13500];

// ---- STYLE ----------------------------------------------------------------
const SANS = "Lato, 'Open Sans', 'DejaVu Sans', sans-serif";
const SERIF = "'Liberation Serif', serif";

const powerOfTen = (v: number) => {
  const e = Math.log10(v);
  return Math.abs(e - Math.round(e)) < 1e-6 ? Math.round(e) : null;
};

// draws the frame, the outward ticks and the 10^n labels from the chart's scales
const framePlugin = {
  id: "frame",
  afterDraw(chart: any) {
    const { ctx, chartArea: a, scales } = chart;
    const yOnRight = scales.y.options.position === "right";
    ctx.save();
    ctx.strokeStyle = "#000";
    ctx.fillStyle = "#000";
    scales.x.ticks.forEach((t: any) => {
      const px = scales.x.getPixelForValue(t.value);
      ctx.lineWidth = 2.5;
      ctx.beginPath();
      ctx.moveTo(px, a.bottom);
      ctx.lineTo(px, a.bottom + 9);
      ctx.stroke();
    });
    ctx.textBaseline = "alphabetic";
    ctx.textAlign = "left";
    scales.y.ticks.forEach((t: any) => {
      const py = scales.y.getPixelForValue(t.value);
      const power = powerOfTen(t.value);
      const major = power !== null;
      const len = major ? 9 : 5;
      ctx.lineWidth = major ? 2.5 : 1.8;
      ctx.beginPath();
      ctx.moveTo(yOnRight ? a.right : a.left, py);
      ctx.lineTo(yOnRight ? a.right + len : a.left - len, py);
      ctx.stroke();
      if (major) {
        const exp = power < 0 ? `−${-power}` : String(power);
        ctx.font = `37px ${SERIF}`;
        const expWidth = ctx.measureText(exp).width;
        ctx.font = `52px ${SERIF}`;
        const baseWidth = ctx.measureText("10").width;
        const x0 = yOnRight ? a.right + 15 : a.left - 25 - expWidth - baseWidth;
        ctx.fillText("10", x0, py + 22);
        ctx.font = `37px ${SERIF}`;
        ctx.fillText(exp, x0 + baseWidth, py + 3);
      }
    });
    ctx.lineWidth = 2.5;
    ctx.strokeRect(a.left, a.top, a.right - a.left, a.bottom - a.top);
    ctx.restore();
  },
};

// band labels, panel letter and the horizontal legend inside the axes
const spectrumNotes = {
  id: "spectrumNotes",
  afterDraw(chart: any) {
    const { ctx, chartArea: a, scales } = chart;
    ctx.save();
    ctx.fillStyle = "#000";
    ctx.textAlign = "center";
    ctx.textBaseline = "middle";
    ctx.font = `36px ${SANS}`;
    bandLabels.forEach((txt, i) => {
      ctx.fillText(txt, scales.x.getPixelForValue(bandWavelengths[i]), scales.y.getPixelForValue(bandPressures[i]));
    });
    ctx.textAlign = "left";
    ctx.font = `58px ${SANS}`;
    ctx.fillText("(b)", a.left + 13, a.top + 47);

    const handleStart = [41, 280, 516, 755, 991, 1220, 1459];
    const handleLen = 79;
    const rowY = a.bottom - 71;
    ctx.font = `46px ${SANS}`;
    planets.forEach((name, i) => {
      const x0 = a.left + handleStart[i];
      ctx.strokeStyle = planetColors[i];
      ctx.lineWidth = 4.5;
      ctx.beginPath();
      ctx.moveTo(x0, rowY);
      ctx.lineTo(x0 + handleLen, rowY);
      ctx.stroke();
      ctx.fillText(name, x0 + handleLen + 38, rowY + 2);
    });
    ctx.restore();
  },
};

const baseScale = (title: string) => ({
  type: "linear",
  grid: { display: false, drawTicks: false },
  border: { display: false },
  title: { display: true, text: title, font: { family: SANS, size: 50 }, color: "#000", padding: { top: 20, bottom: 20 } },
  ticks: {
    color: "#000",
    font: { family: SERIF, size: 52 },
    padding: 14,
    maxRotation: 0,
    autoSkip: false,
    includeBounds: false,
  },
  afterFit: (s: any) => {
    s.height = 161;
    s.paddingLeft = 0;
    s.paddingRight = 0;
  },
});

const pressureScale = (position: string, width: number, title: string, titlePad: number) => ({
  type: "logarithmic",
  position,
  reverse: true,
  min: 0.1,
  max: 1e7,
  grid: { display: false, drawTicks: false },
  border: { display: false },
  title: { display: true, text: title, font: { family: SANS, size: 50 }, color: "#000", padding: { top: titlePad, bottom: titlePad } },
  ticks: {
    color: "#000",
    autoSkip: false,
    callback: () => "",
  },
  afterFit: (s: any) => {
    s.width = width;
    s.paddingTop = 0;
    s.paddingBottom = 0;
  },
});

function buildSpectrum(canvas: HTMLCanvasElement) {
  return new Chart(canvas, {
    type: "line",
    data: {
      datasets: planets.map((p, i) => ({
        label: p,
        data: spectra[i].map(([x, l]) => ({ x, y: Math.pow(10, l) })),
        borderColor: planetColors[i],
        borderWidth: 4.8,
        pointRadius: 0,
        tension: 0,
        borderJoinStyle: "round",
        order: planets.length - i,
      })),
    },
    options: {
      responsive: false,
      animation: false,
      events: [],
      layout: { autoPadding: false, padding: { left: 0, right: 6, top: 0, bottom: 0 } },
      plugins: {
        legend: { display: false },
        tooltip: { enabled: false },
        title: {
          display: true,
          text: titleText,
          align: "start",
          fullSize: false,
          color: "#000",
          font: { family: SANS, size: 52, weight: "normal" },
          padding: { top: 8, bottom: 6.6 },
        },
      },
      scales: {
        x: { ...baseScale("Wavelength [μm]"), min: 0.8, max: 5.1, ticks: { ...baseScale("").ticks, stepSize: 0.5, callback: (v: any) => Number(v).toFixed(1) } },
        y: pressureScale("left", 206, "Transit Pressure [Pa]", 10),
      },
    },
    plugins: [framePlugin, spectrumNotes],
  } as any);
}

function buildProfiles(canvas: HTMLCanvasElement) {
  const thin = planets.map((p, i) => ({
    label: p,
    data: pressureLevels.map((y, k) => ({ x: temperatures[i][k], y })),
    borderColor: planetColors[i],
    borderWidth: 3.4,
    pointRadius: 0,
    order: 30 - i,
  }));
  const thick = planets.map((p, i) => ({
    label: p + " probed",
    data: [
      ...pressureLevels
        .map((y, k) => ({ x: temperatures[i][k], y }))
        .filter((d) => d.y >= thickTopPressures[i] && d.y < markerPressures[i]),
      { x: markerTemperatures[i], y: markerPressures[i] },
    ],
    borderColor: planetColors[i],
    borderWidth: 7.5,
    pointRadius: 0,
    order: 20 - i,
  }));
  const marks = planets.map((p, i) => ({
    label: p + " cloud",
    data: [{ x: markerTemperatures[i], y: markerPressures[i] }],
    showLine: false,
    pointRadius: 7.5,
    pointBorderWidth: 3,
    pointBackgroundColor: planetColors[i],
    pointBorderColor: "#808080",
    order: 10 - i,
  }));
  return new Chart(canvas, {
    type: "line",
    data: { datasets: [...thin, ...thick, ...marks] },
    options: {
      responsive: false,
      animation: false,
      events: [],
      layout: { autoPadding: false, padding: { left: 6, right: 0, top: 77, bottom: 0 } },
      plugins: { legend: { display: false }, tooltip: { enabled: false } },
      scales: {
        x: { ...baseScale("Temperature [K]"), min: 100.5, max: 810, ticks: { ...baseScale("").ticks, stepSize: 200 } },
        y: pressureScale("right", 194, "Pressure [Pa]", 19),
      },
    },
    plugins: [framePlugin],
  } as any);
}

export default function App() {
  const leftRef = useRef<HTMLCanvasElement>(null);
  const rightRef = useRef<HTMLCanvasElement>(null);
  useEffect(() => {
    const a = buildSpectrum(leftRef.current!);
    const b = buildProfiles(rightRef.current!);
    return () => {
      a.destroy();
      b.destroy();
    };
  }, []);
  return (
    <div style={{ position: "absolute", left: 0, top: 0, width: 2880, height: 1143, background: "#fff", overflow: "hidden" }}>
      <canvas ref={leftRef} width={1857} height={1143} style={{ position: "absolute", left: 0, top: 0, width: 1857, height: 1143 }} />
      <canvas ref={rightRef} width={1023} height={1143} style={{ position: "absolute", left: 1857, top: 0, width: 1023, height: 1143 }} />
    </div>
  );
}
